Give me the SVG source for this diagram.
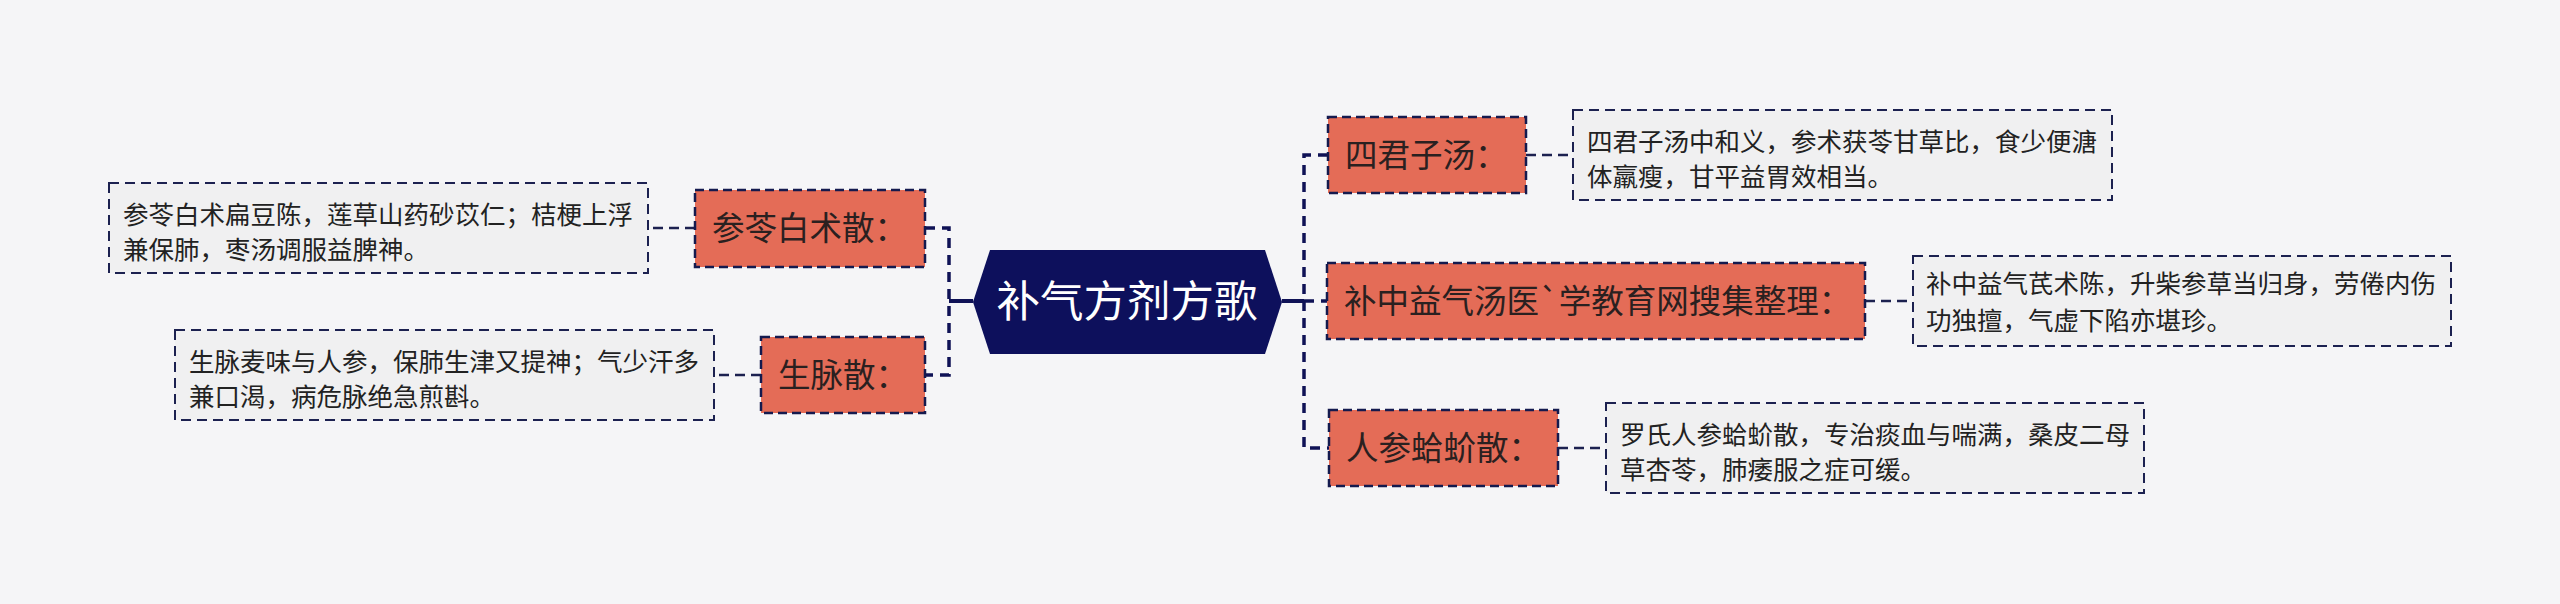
<svg xmlns="http://www.w3.org/2000/svg" width="2560" height="604" viewBox="0 0 2560 604">
<style>
.bg{fill:#f5f5f7}
.node rect{fill:#e46c57;stroke:#141a4e;stroke-width:2.5;stroke-dasharray:9 5}
.node text{font-family:"Noto Sans CJK SC","Noto Sans",sans-serif;font-size:32.5px;fill:#2a2020}
.note rect{fill:#f0f0f1;stroke:#1c2150;stroke-width:2;stroke-dasharray:10 6}
.note text{font-family:"Noto Sans CJK SC","Noto Sans",sans-serif;font-size:25.5px;fill:#222}
.conn{fill:none;stroke:#0f1256;stroke-width:3.5;stroke-dasharray:10 7}
.solid{fill:none;stroke:#0f1256;stroke-width:4}
.thin{fill:none;stroke:#1c2150;stroke-width:2.5;stroke-dasharray:10 6}
</style>
<rect class="bg" x="0" y="0" width="2560" height="604"/>
<g id="connectors">
<path class="solid" d="M973,301 H949"/>
<path class="solid" d="M1282,301 H1304"/>
<path class="conn" d="M925,228 H949 V375 H925"/>
<path class="conn" d="M1328,155 H1304 V448 H1329"/>
<path class="conn" d="M1304,301 H1327"/>
<path class="thin" d="M695,228 H648"/>
<path class="thin" d="M761,375 H714"/>
<path class="thin" d="M1526,155 H1573"/>
<path class="thin" d="M1865,301 H1913"/>
<path class="thin" d="M1558,448 H1606"/>
</g>
<g id="root">
<polygon points="973,302 990,250 1265,250 1282,302 1265,354 990,354" fill="#0d105c"/>
<text x="1127" y="317" text-anchor="middle" font-family="'Noto Sans CJK SC','Noto Sans',sans-serif" font-size="43.5" fill="#ffffff">补气方剂方歌</text>
</g>
<g id="n-shenling" class="node">
<rect x="695" y="190" width="230" height="77"/>
<text x="712" y="240">参苓白术散：</text>
</g>
<g id="n-shengmai" class="node">
<rect x="761" y="337" width="164" height="76"/>
<text x="778" y="387">生脉散：</text>
</g>
<g id="n-sijunzi" class="node">
<rect x="1328" y="117" width="198" height="76"/>
<text x="1345" y="167">四君子汤：</text>
</g>
<g id="n-buzhong" class="node">
<rect x="1327" y="263" width="538" height="76"/>
<text x="1344" y="313">补中益气汤医`学教育网搜集整理：</text>
</g>
<g id="n-renshen" class="node">
<rect x="1329" y="410" width="229" height="76"/>
<text x="1346" y="460">人参蛤蚧散：</text>
</g>
<g id="t-shenling" class="note">
<rect x="109" y="183" width="539" height="90"/>
<text x="123" y="224">参苓白术扁豆陈，莲草山药砂苡仁；桔梗上浮</text>
<text x="123" y="259">兼保肺，枣汤调服益脾神。</text>
</g>
<g id="t-shengmai" class="note">
<rect x="175" y="330" width="539" height="90"/>
<text x="189" y="371">生脉麦味与人参，保肺生津又提神；气少汗多</text>
<text x="189" y="406">兼口渴，病危脉绝急煎斟。</text>
</g>
<g id="t-sijunzi" class="note">
<rect x="1573" y="110" width="539" height="90"/>
<text x="1587" y="151">四君子汤中和义，参术获苓甘草比，食少便溏</text>
<text x="1587" y="186">体羸瘦，甘平益胃效相当。</text>
</g>
<g id="t-buzhong" class="note">
<rect x="1913" y="256" width="538" height="90"/>
<text x="1926" y="293">补中益气芪术陈，升柴参草当归身，劳倦内伤</text>
<text x="1926" y="330">功独擅，气虚下陷亦堪珍。</text>
</g>
<g id="t-renshen" class="note">
<rect x="1606" y="403" width="538" height="90"/>
<text x="1620" y="444">罗氏人参蛤蚧散，专治痰血与喘满，桑皮二母</text>
<text x="1620" y="479">草杏苓，肺痿服之症可缓。</text>
</g>
</svg>
